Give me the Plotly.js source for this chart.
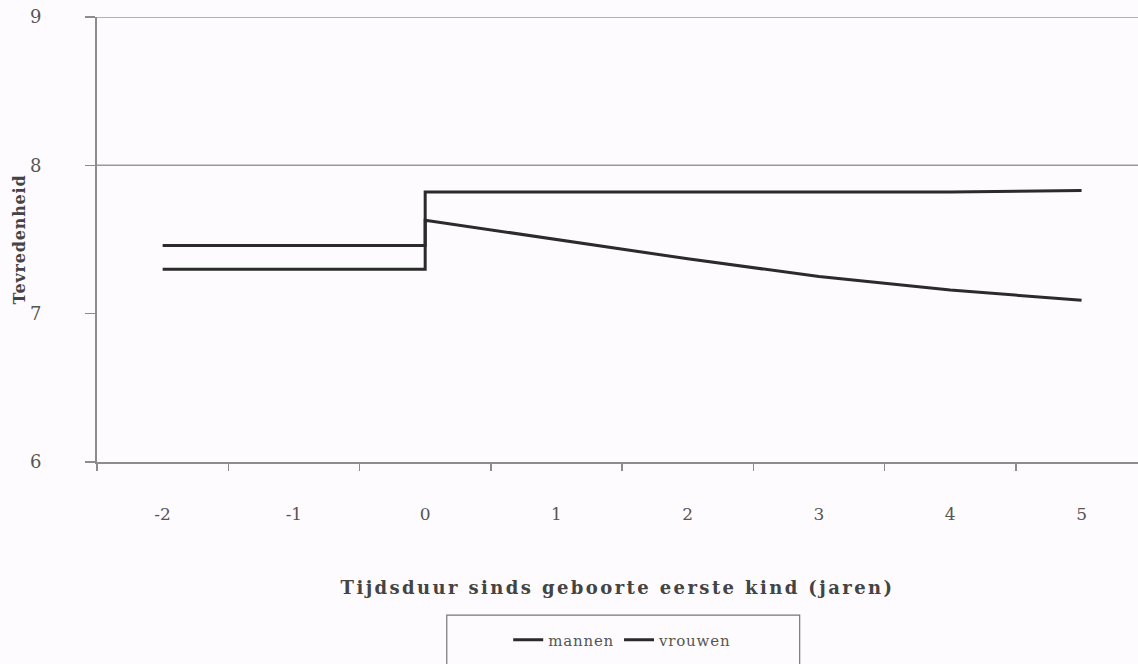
<!DOCTYPE html>
<html>
<head>
<meta charset="utf-8">
<script src="https://cdn.plot.ly/plotly-3.0.1.min.js"></script>
<style>
html,body{margin:0;padding:0;background:#fdfbfd;}
#chart{width:1138px;height:664px;}
.xtitle{letter-spacing:2.4px;}
.ytitle{letter-spacing:0.8px;}
.legendtext{letter-spacing:0.8px;}
</style>
</head>
<body>
<div id="chart"></div>
<script>
// Data
const years = [-2, 0, 0, 1, 2, 3, 4, 5];
const mannen = [7.30, 7.30, 7.63, 7.50, 7.37, 7.25, 7.16, 7.09];
const vrouwen = [7.46, 7.46, 7.82, 7.82, 7.82, 7.82, 7.82, 7.83];
const xTickVals = [-2, -1, 0, 1, 2, 3, 4, 5];
const xTickText = ['-2', '-1', '0', '1', '2', '3', '4', '5'];
const yTickVals = [6, 7, 8, 9];
const gridValues = [8, 9];

const serif = '"DejaVu Serif", "Liberation Serif", serif';
const lineColor = '#2b2b2b';
const axisColor = '#8c8c8c';

const traces = [
  {x: years, y: mannen, name: 'mannen', type: 'scatter', mode: 'lines',
   line: {color: lineColor, width: 3}},
  {x: years, y: vrouwen, name: 'vrouwen', type: 'scatter', mode: 'lines',
   line: {color: lineColor, width: 3}}
];

const shapes = gridValues.map(v => ({
  type: 'line', xref: 'paper', yref: 'y', x0: 0, x1: 1, y0: v, y1: v,
  line: {color: '#9a9a9a', width: 1.5}, layer: 'below'
}));
shapes.push({
  type: 'rect', xref: 'paper', yref: 'paper',
  x0: 0.336, x1: 0.675, y0: -0.344, y1: -0.50,
  line: {color: '#777', width: 1.2}, fillcolor: 'rgba(0,0,0,0)'
});

const layout = {
  width: 1138, height: 664,
  margin: {l: 97, r: 0, t: 17, b: 202},
  paper_bgcolor: '#fdfbfd', plot_bgcolor: '#fdfbfd',
  font: {family: serif, color: '#4a4a4a'},
  showlegend: true,
  legend: {orientation: 'h', x: 0.505, xanchor: 'center', y: -0.40, yanchor: 'middle',
           font: {family: serif, size: 15, color: '#555'}, bgcolor: 'rgba(0,0,0,0)'},
  xaxis: {
    range: [-2.5, 5.43], tickvals: xTickVals, ticktext: xTickText,
    ticks: '', showgrid: false, zeroline: false,
    showline: true, linecolor: axisColor, linewidth: 2,
    ticklabelstandoff: 36,
    tickfont: {family: serif, size: 17, color: '#555'},
    minor: {ticks: 'outside', tick0: -2.5, dtick: 1, ticklen: 7, tickcolor: axisColor, tickwidth: 1.5, showgrid: false},
    title: {text: 'Tijdsduur sinds geboorte eerste kind (jaren)', standoff: 58,
            font: {family: serif, size: 18, color: '#444', weight: 'bold'}}
  },
  yaxis: {
    range: [6, 9], tickvals: yTickVals, ticks: 'outside', ticklen: 10,
    tickcolor: axisColor, tickwidth: 1.5,
    showgrid: false, zeroline: false,
    showline: true, linecolor: axisColor, linewidth: 2,
    ticklabelstandoff: 40,
    tickfont: {family: serif, size: 18, color: '#555'},
    title: {text: 'Tevredenheid', standoff: 0,
            font: {family: serif, size: 16, color: '#444', weight: 'bold'}}
  },
  shapes: shapes
};

Plotly.newPlot('chart', traces, layout, {displayModeBar: false, staticPlot: true});
</script>
</body>
</html>
